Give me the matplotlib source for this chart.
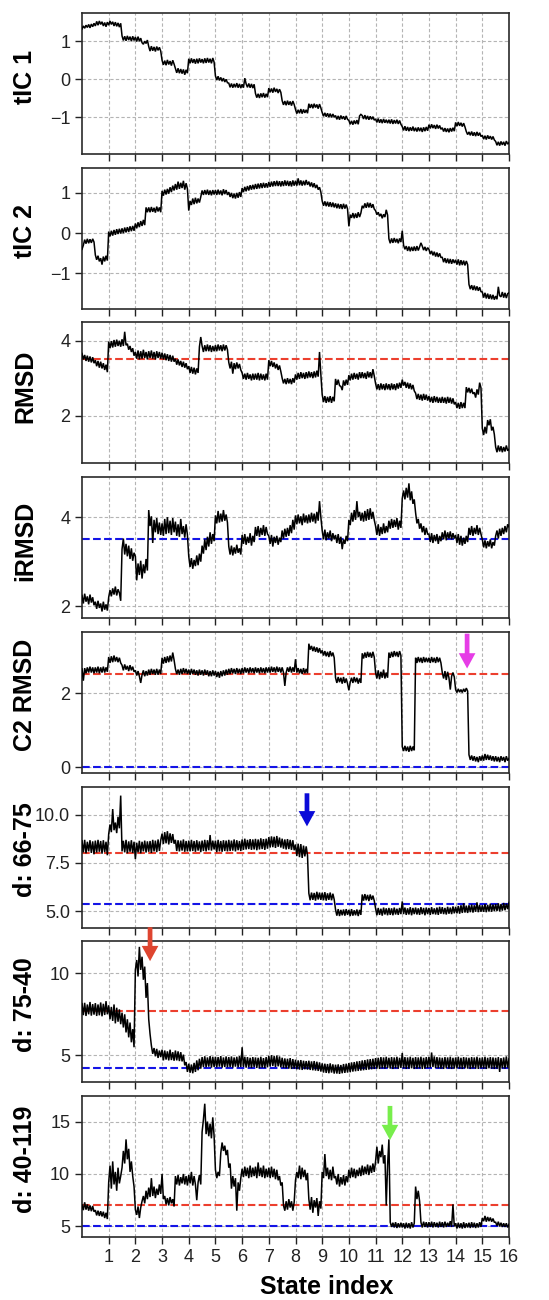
import numpy as np
import matplotlib
matplotlib.use("Agg")
import matplotlib.pyplot as plt

plt.rcParams['font.family'] = ['Liberation Sans', 'DejaVu Sans']

# every trace sampled every 0.05 along the state index (0 .. 16)
tic1 = [1.32, 1.40, 1.34, 1.42, 1.36, 1.44, 1.35, 1.45, 1.38, 1.47,
        1.40, 1.52, 1.42, 1.53, 1.44, 1.51, 1.40, 1.49, 1.38, 1.50,
        1.42, 1.53, 1.44, 1.51, 1.40, 1.50, 1.39, 1.48, 1.37, 1.47,
        1.14, 1.02, 1.13, 1.01, 1.14, 1.03, 1.12, 1.00, 1.13, 1.02,
        1.11, 0.99, 1.12, 1.00, 1.08, 0.96, 0.92, 1.00, 0.94, 1.03,
        0.86, 0.74, 0.87, 0.75, 0.85, 0.73, 0.86, 0.76, 0.84, 0.74,
        0.50, 0.38, 0.49, 0.37, 0.51, 0.39, 0.48, 0.36, 0.50, 0.40,
        0.28, 0.17, 0.29, 0.16, 0.27, 0.15, 0.26, 0.12, 0.25, 0.16,
        0.54, 0.42, 0.55, 0.43, 0.53, 0.41, 0.54, 0.42, 0.55, 0.44,
        0.53, 0.42, 0.55, 0.43, 0.56, 0.44, 0.54, 0.42, 0.56, 0.45,
        0.09, -0.02, 0.08, -0.03, 0.05, -0.05, 0.03, -0.07, 0.00, -0.09,
        -0.10, -0.21, -0.11, -0.22, -0.12, -0.21, -0.10, -0.22, -0.12, -0.23,
        -0.13, -0.22, 0.03, -0.12, -0.21, -0.11, -0.22, -0.12, -0.23, -0.13,
        -0.37, -0.48, -0.38, -0.49, -0.37, -0.47, -0.36, -0.48, -0.38, -0.47,
        -0.23, -0.34, -0.24, -0.35, -0.22, -0.33, -0.25, -0.36, -0.26, -0.34,
        -0.56, -0.67, -0.57, -0.68, -0.56, -0.67, -0.58, -0.69, -0.57, -0.66,
        -0.79, -0.90, -0.80, -0.89, -0.78, -0.90, -0.79, -0.88, -0.80, -0.89,
        -0.64, -0.75, -0.65, -0.76, -0.64, -0.74, -0.66, -0.77, -0.65, -0.75,
        -0.87, -0.97, -0.88, -0.98, -0.89, -0.99, -0.90, -1.00, -0.91, -0.99,
        -0.95, -1.05, -0.96, -1.06, -0.95, -1.04, -0.97, -1.06, -0.96, -1.05,
        -1.08, -1.18, -1.09, -1.19, -1.08, -1.17, -1.07, -1.18, -0.96, -0.92,
        -0.95, -1.04, -0.94, -1.05, -0.96, -1.06, -0.97, -1.05, -0.98, -1.07,
        -1.04, -1.13, -1.03, -1.14, -1.05, -1.15, -1.04, -1.14, -1.06, -1.15,
        -1.06, -1.16, -1.05, -1.17, -1.07, -1.16, -1.06, -1.17, -1.08, -1.18,
        -1.24, -1.34, -1.23, -1.35, -1.25, -1.36, -1.26, -1.35, -1.24, -1.36,
        -1.27, -1.37, -1.26, -1.36, -1.27, -1.38, -1.26, -1.36, -1.25, -1.35,
        -1.19, -1.29, -1.18, -1.28, -1.20, -1.30, -1.19, -1.29, -1.21, -1.31,
        -1.27, -1.37, -1.28, -1.38, -1.29, -1.39, -1.28, -1.37, -1.27, -1.36,
        -1.13, -1.23, -1.12, -1.22, -1.14, -1.24, -1.15, -1.25, -1.37, -1.45,
        -1.38, -1.47, -1.37, -1.48, -1.39, -1.49, -1.38, -1.48, -1.40, -1.50,
        -1.47, -1.57, -1.48, -1.58, -1.47, -1.56, -1.49, -1.58, -1.50, -1.59,
        -1.63, -1.73, -1.64, -1.74, -1.63, -1.72, -1.64, -1.74, -1.62, -1.70,
        -1.66]

tic2 = [-0.40, -0.30, -0.16, -0.26, -0.14, -0.25, -0.15, -0.24, -0.14, -0.22,
        -0.54, -0.66, -0.56, -0.70, -0.62, -0.78, -0.58, -0.70, -0.56, -0.68,
        0.04, -0.08, 0.06, -0.06, 0.08, -0.04, 0.10, -0.02, 0.11, -0.01,
        0.12, 0.00, 0.14, 0.02, 0.15, 0.03, 0.17, 0.05, 0.18, 0.06,
        0.24, 0.12, 0.27, 0.15, 0.30, 0.18, 0.33, 0.20, 0.64, 0.52,
        0.64, 0.52, 0.65, 0.53, 0.63, 0.51, 0.66, 0.54, 0.64, 0.52,
        1.05, 0.93, 1.08, 0.96, 1.10, 0.98, 1.14, 1.02, 1.18, 1.06,
        1.22, 1.08, 1.28, 1.10, 1.25, 1.12, 1.30, 1.08, 1.24, 1.10,
        0.56, 0.80, 0.70, 0.86, 0.72, 0.88, 0.74, 0.86, 0.76, 0.90,
        1.06, 0.95, 1.07, 0.96, 1.08, 0.95, 1.06, 0.94, 1.07, 0.96,
        1.07, 0.95, 1.08, 0.96, 1.06, 0.94, 1.09, 0.97, 1.07, 0.95,
        1.02, 0.90, 1.00, 0.87, 0.98, 0.86, 1.00, 0.88, 1.02, 0.90,
        1.12, 1.02, 1.15, 1.04, 1.17, 1.06, 1.19, 1.08, 1.20, 1.09,
        1.22, 1.10, 1.23, 1.11, 1.24, 1.12, 1.25, 1.13, 1.24, 1.13,
        1.27, 1.15, 1.28, 1.16, 1.29, 1.17, 1.30, 1.17, 1.29, 1.16,
        1.29, 1.17, 1.31, 1.18, 1.30, 1.17, 1.29, 1.16, 1.31, 1.18,
        1.30, 1.18, 1.36, 1.19, 1.31, 1.18, 1.30, 1.19, 1.32, 1.20,
        1.28, 1.16, 1.26, 1.14, 1.24, 1.12, 1.20, 1.08, 1.14, 1.02,
        0.80, 0.68, 0.79, 0.67, 0.78, 0.66, 0.77, 0.65, 0.76, 0.64,
        0.74, 0.62, 0.73, 0.61, 0.72, 0.60, 0.73, 0.61, 0.71, 0.60,
        0.17, 0.46, 0.38, 0.50, 0.37, 0.49, 0.38, 0.52, 0.40, 0.50,
        0.68, 0.62, 0.74, 0.63, 0.76, 0.64, 0.75, 0.63, 0.72, 0.60,
        0.56, 0.46, 0.52, 0.42, 0.48, 0.37, 0.47, 0.40, 0.58, 0.45,
        -0.14, -0.25, -0.13, -0.24, -0.12, -0.23, -0.14, -0.25, -0.13, -0.22,
        0.06, -0.30, -0.40, -0.32, -0.44, -0.33, -0.45, -0.34, -0.44, -0.33,
        -0.44, -0.32, -0.43, -0.34, -0.24, -0.32, -0.42, -0.34, -0.44, -0.36,
        -0.40, -0.52, -0.44, -0.55, -0.46, -0.58, -0.48, -0.59, -0.50, -0.60,
        -0.60, -0.72, -0.62, -0.74, -0.63, -0.75, -0.64, -0.76, -0.65, -0.74,
        -0.66, -0.78, -0.65, -0.80, -0.67, -0.79, -0.68, -0.80, -0.69, -0.78,
        -1.27, -1.39, -1.29, -1.41, -1.30, -1.42, -1.32, -1.43, -1.34, -1.45,
        -1.46, -1.60, -1.48, -1.62, -1.50, -1.63, -1.52, -1.64, -1.53, -1.65,
        -1.56, -1.64, -1.33, -1.55, -1.58, -1.46, -1.60, -1.48, -1.61, -1.50,
        -1.48]

rmsd = [3.66, 3.50, 3.62, 3.46, 3.60, 3.44, 3.58, 3.42, 3.56, 3.40,
        3.48, 3.32, 3.46, 3.28, 3.44, 3.26, 3.40, 3.22, 3.36, 3.16,
        3.98, 3.80, 3.99, 3.82, 4.02, 3.84, 4.03, 3.86, 4.00, 3.84,
        4.04, 3.86, 4.24, 3.88, 3.92, 3.76, 3.86, 3.70, 3.80, 3.60,
        3.70, 3.52, 3.74, 3.50, 3.72, 3.52, 3.76, 3.54, 3.70, 3.50,
        3.72, 3.54, 3.74, 3.52, 3.70, 3.50, 3.72, 3.54, 3.70, 3.52,
        3.68, 3.50, 3.66, 3.48, 3.64, 3.46, 3.62, 3.44, 3.60, 3.44,
        3.52, 3.36, 3.50, 3.34, 3.46, 3.30, 3.44, 3.28, 3.40, 3.24,
        3.32, 3.14, 3.30, 3.12, 3.28, 3.10, 3.26, 3.14, 3.84, 4.10,
        3.86, 3.70, 3.88, 3.72, 3.90, 3.72, 3.88, 3.70, 3.86, 3.72,
        3.88, 3.72, 3.90, 3.74, 3.88, 3.72, 3.90, 3.74, 3.88, 3.76,
        3.42, 3.26, 3.44, 3.12, 3.40, 3.24, 3.42, 3.26, 3.38, 3.22,
        3.14, 2.98, 3.12, 2.96, 3.14, 2.98, 3.10, 2.94, 3.12, 2.96,
        3.12, 2.96, 3.14, 2.94, 3.12, 2.96, 3.10, 2.94, 3.12, 2.96,
        3.48, 3.32, 3.46, 3.30, 3.42, 3.26, 3.38, 3.22, 3.34, 3.18,
        3.00, 2.86, 2.98, 2.84, 3.00, 2.86, 2.98, 2.84, 3.00, 2.88,
        3.10, 2.96, 3.14, 2.98, 3.16, 3.00, 3.14, 2.98, 3.16, 3.00,
        3.18, 3.02, 3.16, 3.00, 3.18, 3.02, 3.20, 3.04, 3.70, 3.10,
        2.56, 2.36, 2.52, 2.34, 2.50, 2.36, 2.52, 2.34, 2.50, 2.38,
        2.98, 2.82, 2.96, 2.80, 2.78, 2.68, 2.94, 2.80, 2.96, 2.82,
        3.08, 2.94, 3.12, 2.96, 3.14, 2.98, 3.12, 2.96, 3.16, 3.00,
        3.16, 3.00, 3.14, 2.98, 3.18, 3.02, 3.16, 3.00, 3.24, 3.06,
        2.86, 2.70, 2.84, 2.68, 2.86, 2.70, 2.84, 2.68, 2.86, 2.70,
        2.84, 2.68, 2.86, 2.70, 2.84, 2.68, 2.86, 2.72, 2.88, 2.74,
        2.96, 2.80, 2.90, 2.74, 2.88, 2.72, 2.86, 2.70, 2.82, 2.66,
        2.60, 2.44, 2.58, 2.42, 2.56, 2.40, 2.58, 2.42, 2.56, 2.40,
        2.52, 2.36, 2.50, 2.34, 2.52, 2.36, 2.50, 2.34, 2.48, 2.34,
        2.50, 2.34, 2.48, 2.32, 2.50, 2.34, 2.48, 2.32, 2.46, 2.30,
        2.36, 2.20, 2.34, 2.18, 2.36, 2.20, 2.34, 2.20, 2.76, 2.62,
        2.74, 2.60, 2.72, 2.58, 2.62, 2.48, 2.70, 2.56, 2.88, 2.74,
        1.66, 1.48, 1.70, 1.52, 1.88, 1.74, 1.90, 1.60, 1.70, 1.50,
        1.16, 1.02, 1.20, 1.04, 1.18, 1.02, 1.16, 1.04, 1.20, 1.06,
        1.10]

irmsd = [2.24, 2.06, 2.28, 2.10, 2.22, 2.04, 2.26, 2.08, 2.20, 2.02,
         2.10, 1.94, 2.12, 1.96, 2.06, 1.88, 2.10, 1.92, 2.04, 1.90,
         2.20, 2.36, 2.22, 2.40, 2.26, 2.44, 2.24, 2.38, 2.30, 2.12,
         3.28, 3.52, 3.16, 3.40, 3.12, 3.36, 3.06, 3.30, 3.02, 3.20,
         3.12, 2.58, 2.96, 2.70, 3.02, 2.62, 2.94, 2.74, 3.06, 2.80,
         4.16, 3.80, 4.02, 3.42, 3.94, 3.66, 3.98, 3.62, 3.88, 3.60,
         3.86, 3.58, 3.96, 3.62, 4.00, 3.64, 3.92, 3.60, 3.98, 3.66,
         3.90, 3.58, 3.84, 3.56, 3.96, 3.62, 3.80, 3.54, 3.84, 3.60,
         3.12, 2.88, 3.08, 2.84, 3.04, 2.90, 3.14, 2.92, 3.18, 3.00,
         3.36, 3.18, 3.50, 3.26, 3.56, 3.34, 3.66, 3.40, 3.62, 3.46,
         4.04, 3.86, 4.14, 3.88, 4.08, 3.90, 4.16, 3.92, 4.06, 3.88,
         3.34, 3.16, 3.36, 3.14, 3.32, 3.18, 3.38, 3.20, 3.30, 3.16,
         3.60, 3.40, 3.62, 3.38, 3.56, 3.42, 3.64, 3.36, 3.58, 3.44,
         3.78, 3.58, 3.80, 3.56, 3.76, 3.60, 3.82, 3.58, 3.78, 3.62,
         3.58, 3.40, 3.60, 3.34, 3.56, 3.42, 3.58, 3.38, 3.54, 3.44,
         3.70, 3.52, 3.74, 3.56, 3.76, 3.58, 3.82, 3.64, 3.94, 3.72,
         4.04, 3.84, 4.06, 3.86, 4.02, 3.82, 4.08, 3.88, 4.04, 3.86,
         4.06, 3.88, 4.10, 3.90, 4.08, 3.86, 4.12, 3.92, 4.36, 4.00,
         3.70, 3.50, 3.72, 3.48, 3.66, 3.52, 3.70, 3.46, 3.64, 3.50,
         3.60, 3.42, 3.62, 3.40, 3.56, 3.28, 3.50, 3.40, 3.58, 3.46,
         3.94, 3.82, 4.10, 3.90, 4.16, 3.94, 4.36, 4.00, 4.12, 3.92,
         4.10, 3.90, 4.14, 3.92, 4.18, 3.94, 4.20, 3.96, 4.12, 3.94,
         3.80, 3.60, 3.84, 3.58, 3.78, 3.62, 3.86, 3.64, 3.80, 3.66,
         3.92, 3.74, 3.96, 3.76, 3.94, 3.78, 3.98, 3.72, 3.92, 3.76,
         4.42, 4.60, 4.40, 4.66, 4.44, 4.76, 4.38, 4.58, 4.30, 4.40,
         4.10, 3.86, 3.96, 3.74, 3.86, 3.66, 3.80, 3.60, 3.76, 3.62,
         3.62, 3.44, 3.64, 3.42, 3.60, 3.46, 3.62, 3.40, 3.58, 3.46,
         3.66, 3.50, 3.70, 3.48, 3.66, 3.52, 3.68, 3.50, 3.64, 3.52,
         3.60, 3.42, 3.62, 3.38, 3.58, 3.36, 3.54, 3.40, 3.58, 3.44,
         3.76, 3.60, 3.80, 3.58, 3.76, 3.62, 3.82, 3.60, 3.76, 3.62,
         3.50, 3.32, 3.48, 3.30, 3.46, 3.34, 3.50, 3.30, 3.44, 3.36,
         3.58, 3.70, 3.52, 3.74, 3.58, 3.76, 3.62, 3.80, 3.66, 3.84,
         3.78]

c2_rmsd = [2.66, 2.34, 2.68, 2.54, 2.70, 2.56, 2.72, 2.56, 2.70, 2.54,
           2.70, 2.56, 2.72, 2.54, 2.70, 2.56, 2.72, 2.56, 2.70, 2.58,
           2.98, 2.82, 3.00, 2.84, 3.02, 2.86, 2.98, 2.84, 2.96, 2.82,
           2.76, 2.62, 2.78, 2.64, 2.74, 2.60, 2.76, 2.62, 2.72, 2.58,
           2.62, 2.48, 2.60, 2.46, 2.28, 2.50, 2.62, 2.46, 2.60, 2.48,
           2.64, 2.50, 2.66, 2.52, 2.64, 2.50, 2.66, 2.50, 2.64, 2.52,
           2.96, 2.80, 2.98, 2.82, 3.00, 2.84, 3.02, 2.86, 3.10, 2.90,
           2.66, 2.52, 2.64, 2.50, 2.66, 2.52, 2.68, 2.54, 2.66, 2.52,
           2.64, 2.50, 2.66, 2.52, 2.64, 2.50, 2.62, 2.48, 2.64, 2.50,
           2.62, 2.48, 2.64, 2.50, 2.62, 2.46, 2.60, 2.46, 2.62, 2.48,
           2.60, 2.44, 2.58, 2.42, 2.60, 2.46, 2.62, 2.48, 2.64, 2.50,
           2.66, 2.52, 2.68, 2.54, 2.66, 2.52, 2.68, 2.54, 2.66, 2.52,
           2.68, 2.54, 2.70, 2.56, 2.68, 2.54, 2.70, 2.56, 2.68, 2.54,
           2.70, 2.56, 2.68, 2.54, 2.70, 2.56, 2.68, 2.54, 2.70, 2.56,
           2.70, 2.56, 2.72, 2.58, 2.70, 2.56, 2.72, 2.58, 2.70, 2.56,
           2.70, 2.56, 2.20, 2.56, 2.70, 2.58, 2.72, 2.56, 2.70, 2.58,
           2.92, 2.56, 2.68, 2.54, 2.66, 2.52, 2.68, 2.54, 2.66, 2.54,
           3.34, 3.18, 3.28, 3.14, 3.26, 3.12, 3.24, 3.10, 3.22, 3.08,
           3.16, 3.02, 3.14, 3.00, 3.12, 2.98, 3.14, 3.00, 3.10, 2.96,
           2.42, 2.28, 2.44, 2.30, 2.42, 2.26, 2.44, 2.28, 2.40, 2.26,
           2.08, 2.30, 2.42, 2.28, 2.44, 2.30, 2.42, 2.26, 2.40, 2.28,
           3.08, 2.94, 3.10, 2.96, 3.12, 2.98, 3.10, 2.96, 3.12, 2.98,
           2.56, 2.40, 2.62, 2.38, 2.58, 2.42, 2.64, 2.40, 2.56, 2.42,
           3.10, 2.96, 3.12, 2.98, 3.14, 3.00, 3.12, 2.98, 3.14, 3.02,
           0.56, 0.44, 0.58, 0.44, 0.56, 0.42, 0.58, 0.44, 0.56, 0.46,
           2.96, 2.82, 2.98, 2.84, 2.96, 2.82, 2.98, 2.84, 2.96, 2.84,
           2.96, 2.82, 2.98, 2.84, 2.96, 2.82, 2.98, 2.84, 2.96, 2.82,
           2.56, 2.40, 2.60, 2.36, 2.58, 2.42, 2.10, 2.46, 2.56, 2.44,
           2.10, 2.02, 2.12, 2.03, 2.10, 2.02, 2.12, 2.04, 2.14, 2.06,
           0.34, 0.20, 0.32, 0.18, 0.30, 0.16, 0.28, 0.14, 0.30, 0.18,
           0.32, 0.18, 0.36, 0.20, 0.34, 0.20, 0.32, 0.18, 0.30, 0.16,
           0.30, 0.16, 0.28, 0.14, 0.30, 0.18, 0.28, 0.14, 0.30, 0.18,
           0.24]

d_66_75 = [8.65, 8.05, 8.70, 8.00, 8.60, 8.10, 8.68, 8.02, 8.62, 7.95,
           8.66, 8.04, 8.70, 8.08, 8.64, 7.98, 8.68, 8.06, 8.60, 7.90,
           9.00, 9.50, 9.10, 10.30, 9.20, 9.60, 9.05, 9.90, 9.30, 11.00,
           8.10, 8.65, 8.05, 8.70, 8.00, 8.62, 8.08, 8.68, 8.02, 8.60,
           7.70, 8.55, 8.05, 8.65, 8.00, 8.60, 8.10, 8.66, 8.04, 8.62,
           8.08, 8.64, 8.02, 8.70, 8.10, 8.66, 8.06, 8.72, 8.12, 8.68,
           9.02, 8.48, 9.10, 8.52, 9.15, 8.46, 9.04, 8.54, 9.00, 8.50,
           8.70, 8.12, 8.68, 8.10, 8.66, 8.14, 8.72, 8.08, 8.64, 8.10,
           8.66, 8.10, 8.70, 8.12, 8.64, 8.08, 8.68, 8.14, 8.62, 8.06,
           8.66, 8.12, 8.70, 8.10, 8.68, 8.16, 8.95, 8.14, 8.66, 8.20,
           8.66, 8.06, 8.70, 8.10, 8.64, 8.08, 8.68, 8.12, 8.66, 8.10,
           8.70, 8.12, 8.66, 8.14, 8.72, 8.10, 8.68, 8.16, 8.64, 8.12,
           8.72, 8.18, 8.76, 8.20, 8.70, 8.22, 8.74, 8.18, 8.72, 8.20,
           8.75, 8.16, 8.72, 8.20, 8.78, 8.22, 8.74, 8.18, 8.76, 8.24,
           8.84, 8.30, 8.88, 8.32, 8.86, 8.28, 8.90, 8.34, 8.82, 8.30,
           8.76, 8.24, 8.72, 8.20, 8.74, 8.22, 8.70, 8.18, 8.68, 8.16,
           8.46, 7.86, 8.50, 7.80, 8.48, 7.76, 8.40, 7.84, 8.36, 7.90,
           5.92, 5.56, 5.96, 5.58, 5.94, 5.54, 6.00, 5.60, 5.96, 5.58,
           5.95, 5.56, 5.98, 5.54, 5.92, 5.58, 5.96, 5.56, 5.90, 5.60,
           5.08, 4.76, 5.10, 4.74, 5.06, 4.78, 5.08, 4.76, 5.10, 4.80,
           5.06, 4.74, 5.10, 4.76, 5.04, 4.78, 5.08, 4.74, 5.06, 4.80,
           5.86, 5.54, 5.88, 5.56, 5.84, 5.52, 5.86, 5.58, 5.80, 5.54,
           5.14, 4.78, 5.16, 4.80, 5.12, 4.76, 5.18, 4.82, 5.14, 4.78,
           5.16, 4.80, 5.14, 4.78, 5.18, 4.82, 5.12, 4.80, 5.16, 4.84,
           5.50, 4.84, 5.18, 4.80, 5.14, 4.82, 5.20, 4.78, 5.16, 4.84,
           5.18, 4.82, 5.14, 4.80, 5.20, 4.84, 5.16, 4.78, 5.18, 4.84,
           5.16, 4.80, 5.20, 4.84, 5.14, 4.82, 5.18, 4.80, 5.22, 4.86,
           5.20, 4.84, 5.16, 4.82, 5.22, 4.86, 5.18, 4.84, 5.24, 4.88,
           5.22, 4.88, 5.26, 4.86, 5.30, 4.90, 5.40, 4.92, 5.28, 4.90,
           5.30, 4.94, 5.34, 4.92, 5.30, 4.96, 5.45, 4.94, 5.32, 4.96,
           5.30, 4.96, 5.36, 4.94, 5.32, 4.98, 5.38, 4.96, 5.34, 5.00,
           5.36, 5.00, 5.40, 4.98, 5.36, 5.02, 5.42, 5.04, 5.38, 5.10,
           5.45]

d_75_40 = [8.15, 7.45, 8.20, 7.40, 8.10, 7.50, 8.25, 7.42, 8.12, 7.48,
           8.18, 7.40, 8.10, 7.44, 8.22, 7.38, 8.14, 7.46, 8.30, 7.50,
           8.05, 7.20, 7.95, 7.10, 8.10, 6.95, 7.90, 7.05, 7.80, 6.90,
           7.60, 6.70, 7.50, 6.40, 7.20, 6.10, 7.00, 5.80, 6.60, 5.50,
           10.20, 10.80, 9.80, 11.60, 10.20, 11.00, 9.60, 10.40, 8.50, 9.40,
           7.20, 6.30, 5.60, 5.10, 5.45, 4.95, 5.40, 4.85, 5.30, 4.90,
           5.35, 4.70, 5.30, 4.75, 5.25, 4.70, 5.35, 4.72, 5.20, 4.68,
           5.30, 4.70, 5.25, 4.66, 5.20, 4.64, 5.05, 4.40, 4.60, 4.00,
           4.50, 3.95, 4.45, 3.92, 4.55, 4.00, 4.70, 4.10, 4.80, 4.20,
           4.90, 4.30, 4.95, 4.28, 4.88, 4.32, 4.96, 4.26, 4.92, 4.30,
           4.92, 4.28, 4.90, 4.32, 4.96, 4.26, 4.88, 4.30, 4.94, 4.28,
           4.90, 4.30, 4.94, 4.26, 4.88, 4.32, 4.92, 4.28, 4.96, 4.30,
           5.50, 4.30, 4.92, 4.26, 4.90, 4.28, 4.86, 4.24, 4.90, 4.30,
           4.88, 4.24, 4.86, 4.22, 4.92, 4.26, 4.84, 4.24, 4.90, 4.28,
           4.98, 4.32, 5.02, 4.36, 4.96, 4.30, 5.00, 4.34, 4.94, 4.28,
           4.86, 4.24, 4.82, 4.22, 4.80, 4.20, 4.84, 4.18, 4.78, 4.20,
           4.74, 4.16, 4.70, 4.14, 4.72, 4.12, 4.68, 4.16, 4.66, 4.14,
           4.68, 4.12, 4.64, 4.10, 4.66, 4.08, 4.62, 4.06, 4.58, 4.02,
           4.52, 3.96, 4.50, 3.94, 4.48, 3.92, 4.52, 3.96, 4.46, 3.90,
           4.44, 3.90, 4.46, 3.88, 4.42, 3.92, 4.48, 3.94, 4.50, 3.96,
           4.54, 3.98, 4.58, 4.02, 4.60, 4.04, 4.64, 4.06, 4.66, 4.08,
           4.70, 4.10, 4.72, 4.12, 4.76, 4.14, 4.78, 4.16, 4.80, 4.18,
           4.84, 4.20, 4.86, 4.18, 4.90, 4.22, 4.88, 4.20, 4.92, 4.24,
           4.86, 4.20, 4.90, 4.18, 4.88, 4.22, 4.92, 4.20, 4.86, 4.24,
           5.15, 4.22, 4.90, 4.18, 4.88, 4.20, 4.92, 4.22, 4.86, 4.18,
           4.90, 4.20, 4.88, 4.22, 4.92, 4.18, 4.86, 4.20, 4.90, 4.24,
           4.92, 4.26, 5.18, 4.30, 4.94, 4.24, 4.90, 4.22, 4.88, 4.20,
           4.86, 4.18, 4.90, 4.22, 4.88, 4.20, 4.92, 4.18, 4.86, 4.20,
           4.88, 4.22, 4.92, 4.20, 4.86, 4.18, 4.90, 4.22, 4.88, 4.20,
           4.86, 4.18, 4.90, 4.22, 4.88, 4.20, 4.92, 4.18, 4.86, 4.22,
           4.88, 4.20, 4.92, 4.18, 4.86, 4.22, 4.90, 4.20, 4.88, 4.18,
           4.86, 4.20, 4.90, 4.00, 4.84, 4.22, 4.88, 4.20, 4.94, 4.26,
           4.80]

d_40_119 = [7.05, 6.55, 7.30, 6.60, 7.10, 6.50, 7.00, 6.45, 6.95, 6.40,
            6.55, 6.05, 6.50, 6.00, 6.45, 5.95, 6.40, 5.80, 6.30, 5.70,
            9.20, 10.80, 8.60, 11.20, 9.00, 10.20, 8.40, 10.60, 9.10, 9.80,
            10.60, 12.20, 11.00, 13.30, 11.40, 12.40, 10.20, 11.20, 9.80, 8.80,
            6.60, 6.10, 6.90, 5.80, 6.80, 7.40, 7.90, 7.20, 8.40, 7.60,
            8.70, 7.80, 9.60, 7.90, 8.80, 7.70, 8.60, 8.00, 9.00, 8.10,
            10.00, 7.60, 7.90, 7.10, 7.70, 7.00, 7.80, 7.20, 7.60, 6.90,
            9.80, 9.00, 9.90, 8.90, 9.70, 9.10, 10.00, 9.00, 9.80, 8.90,
            9.90, 9.10, 10.20, 8.90, 9.80, 9.00, 7.50, 9.20, 9.90, 9.00,
            14.00, 15.20, 16.70, 13.80, 15.00, 13.60, 14.80, 13.40, 15.40, 13.60,
            10.40, 9.60, 10.20, 9.80, 12.00, 13.00, 12.20, 12.70, 11.80, 12.30,
            10.60, 11.00, 8.60, 9.80, 8.80, 9.60, 6.50, 9.20, 8.40, 9.60,
            10.50, 9.70, 10.70, 9.80, 10.60, 9.60, 10.80, 9.70, 10.60, 9.80,
            10.70, 9.60, 11.10, 9.80, 10.60, 9.70, 10.80, 9.60, 10.50, 9.70,
            10.60, 9.60, 10.70, 9.70, 10.50, 9.50, 10.40, 9.40, 9.80, 8.90,
            9.20, 7.00, 6.50, 7.40, 6.60, 7.60, 6.80, 7.40, 6.50, 7.30,
            9.40, 10.20, 9.60, 10.80, 9.50, 10.60, 9.70, 10.40, 9.40, 10.10,
            7.60, 6.60, 7.80, 6.30, 7.50, 6.80, 7.70, 6.00, 7.40, 6.70,
            10.20, 9.60, 11.90, 9.80, 10.60, 9.50, 10.40, 9.40, 10.70, 9.60,
            9.80, 9.00, 10.00, 8.80, 9.70, 9.00, 9.90, 8.90, 9.80, 9.20,
            10.40, 9.60, 10.60, 9.70, 10.50, 9.60, 10.40, 9.80, 10.60, 9.80,
            10.80, 9.90, 10.70, 10.00, 10.90, 9.90, 10.80, 10.10, 11.00, 10.20,
            11.20, 12.60, 11.00, 12.20, 11.60, 12.80, 11.00, 11.80, 7.00, 10.80,
            13.30, 5.40, 4.95, 5.35, 4.90, 5.40, 4.85, 5.30, 4.90, 5.35,
            4.90, 5.30, 4.80, 5.35, 4.85, 5.30, 4.80, 5.40, 4.90, 5.30,
            8.80, 7.60, 8.40, 7.40, 5.40, 4.90, 5.45, 4.95, 5.40, 4.90,
            5.40, 4.95, 5.45, 4.90, 5.40, 4.95, 5.35, 4.90, 5.45, 4.95,
            5.40, 4.90, 5.45, 4.95, 5.35, 5.00, 5.50, 4.95, 7.10, 5.00,
            5.30, 4.80, 5.35, 4.85, 5.30, 4.80, 5.40, 4.85, 5.30, 4.90,
            5.35, 4.85, 5.40, 4.90, 5.35, 4.85, 5.30, 4.90, 5.40, 4.95,
            5.80, 5.50, 6.00, 5.45, 5.90, 5.50, 5.85, 5.45, 5.75, 5.40,
            5.40, 5.05, 5.45, 5.00, 5.35, 4.95, 5.30, 4.95, 5.30, 4.90,
            5.20]

labels = ["tIC 1", "tIC 2", "RMSD", "iRMSD", "C2 RMSD",
          "d: 66-75", "d: 75-40", "d: 40-119"]
series = [tic1, tic2, rmsd, irmsd, c2_rmsd, d_66_75, d_75_40, d_40_119]
ylims = [(-1.96, 1.74), (-1.875, 1.625), (0.72, 4.49), (1.73, 4.90),
         (-0.15, 3.66), (4.14, 11.47), (3.37, 11.94), (3.99, 17.44)]
yticks = [[-1, 0, 1], [-1, 0, 1], [2, 4], [2, 4], [0, 2],
          [5.0, 7.5, 10.0], [5, 10], [5, 10, 15]]

# reference levels (red = starting state, blue = final state)
red_level = [None, None, 3.5, None, 2.53, 8.02, 7.70, 7.06]
blue_level = [None, None, None, 3.5, 0.0, 5.38, 4.21, 5.06]

# arrows marking transitions: panel, x, shaft start, tip, colour
arrows = [(4, 14.43, 3.61, 2.67, '#e63de6'),
          (5, 8.43, 11.12, 9.40, '#0a0ad8'),
          (6, 2.55, 12.79, 10.73, '#de4530'),
          (7, 11.54, 16.49, 13.23, '#78ee4c')]

fig, axes = plt.subplots(8, 1, figsize=(5.49, 13.0), dpi=100, sharex=True)
fig.subplots_adjust(left=82 / 549, right=509 / 549, top=1 - 13 / 1300,
                    bottom=1 - 1237 / 1300, hspace=0.097)

for i, ax in enumerate(axes):
    vals = series[i]
    state = np.linspace(0, 16, len(vals))
    ax.plot(state, vals, color='black', linewidth=1.1,
            solid_joinstyle='miter', zorder=3)
    if red_level[i] is not None:
        ax.axhline(red_level[i], color='#ec3f2e', linestyle='--', linewidth=1.5, zorder=2)
    if blue_level[i] is not None:
        ax.axhline(blue_level[i], color='#1414e6', linestyle='--', linewidth=1.5, zorder=2)
    ax.set_xlim(0, 16)
    ax.set_ylim(*ylims[i])
    ax.set_yticks(yticks[i])
    ax.set_xticks(range(1, 17))
    ax.grid(True, color='#b4b4b4', linestyle=(0, (3, 2)), linewidth=0.8, zorder=0)
    ax.tick_params(direction='out', length=5, width=1, labelsize=13, colors='#222222')
    for s in ax.spines.values():
        s.set_linewidth(1.2)
        s.set_color('#2a2a2a')
    ax.set_ylabel(labels[i], fontsize=18, fontweight='bold')
    ax.yaxis.set_label_coords(-0.105, 0.55)

for k, x, y0, y1, c in arrows:
    axes[k].annotate('', xy=(x, y1), xytext=(x, y0),
                     arrowprops=dict(facecolor=c, edgecolor='none', width=3.4,
                                     headwidth=12, headlength=11, shrink=0),
                     annotation_clip=False, zorder=5)

axes[-1].set_xlabel("State index", fontsize=18, fontweight='bold')
axes[-1].xaxis.set_label_coords(0.574, -0.27)

plt.savefig("out.png", dpi=100)
